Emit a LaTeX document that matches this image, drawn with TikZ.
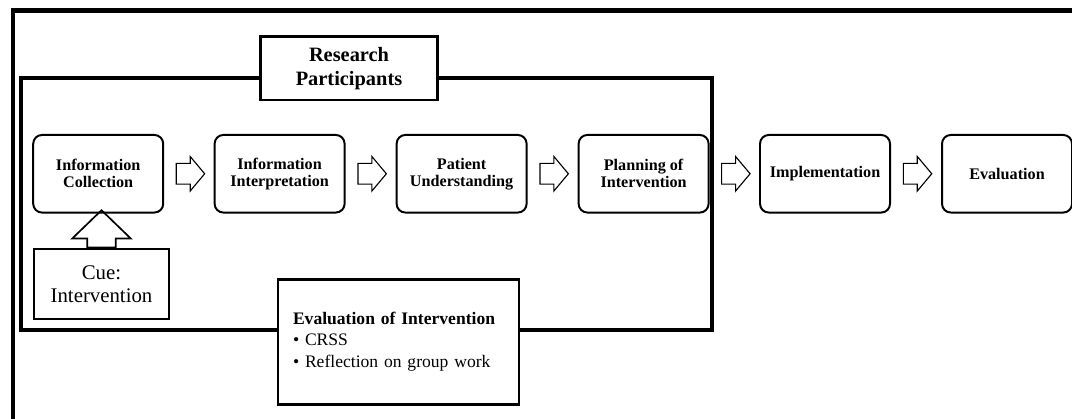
\documentclass[tikz,border=0pt]{standalone}
\usepackage{fontspec}
\setmainfont{Liberation Serif}
\usetikzlibrary{shapes.arrows,calc}

\begin{document}
\begin{tikzpicture}[
 stage/.style={draw,line width=1.4pt,rounded corners=0.22cm,minimum width=3.25cm,minimum height=1.94cm,align=center,font=\fontsize{11.5}{12}\selectfont\bfseries},
 flowarrow/.style={single arrow,draw,line width=0.8pt,minimum height=0.71cm,inner xsep=0pt,inner ysep=0.246cm,single arrow head extend=0.171cm,single arrow tip angle=100},
 heavybox/.style={draw,line width=2.1pt,fill=white}]
\useasboundingbox (0,0) rectangle (26.8,10.45);
% frames
\draw[line width=3.5pt] (0.325,-0.3) -- (0.325,10.18) -- (27.2,10.18);
\draw[line width=2.85pt] (0.525,8.5) rectangle (17.8,2.2);
\node[heavybox,minimum width=4.415cm,minimum height=1.58cm,align=center,font=\fontsize{14.5}{17}\selectfont\bfseries] (participants) at (8.725,8.74) {Research\\Participants};
% stages
\node[stage] (collect) at (2.455,6.106) {Information\\Collection};
\node[stage] (interpret) at (6.99,6.106) {Information\\Interpretation};
\node[stage] (understand) at (11.54,6.106) {Patient\\Understanding};
\node[stage] (plan) at (16.09,6.106) {Planning of\\Intervention};
\node[stage] (implement) at (20.625,6.106) {Implementation};
\node[stage] (evaluate) at (25.175,6.106) {Evaluation};
\foreach \a/\b in {collect/interpret,interpret/understand,understand/plan,plan/implement,implement/evaluate}
 \node[flowarrow,anchor=tail] (\a-\b) at ($(\a.east)!0.5!(\b.west)+(-0.33,0)$) {};
% cue
\node[draw,line width=1.3pt,minimum width=3.375cm,minimum height=1.75cm,align=center,font=\fontsize{14.8}{16.2}\selectfont] (cue) at (2.5375,3.3425) {Cue:\\Intervention};
\node[flowarrow,rotate=90,anchor=tail,line width=1.2pt,minimum height=0.9325cm,inner ysep=0.334cm,single arrow head extend=0.375cm,single arrow tip angle=92] (cuearrow) at (cue.north) {};
% evaluation of intervention
\node[heavybox,minimum width=6.025cm,minimum height=3.12cm,text width=5.275cm,inner xsep=0.375cm,align=left,font=\fontsize{12.5}{15}\selectfont] (review) at (9.9625,1.9075) {\textbf{Evaluation of Intervention}\\\textbullet{} CRSS\\\textbullet{} Reflection on group work};
\end{tikzpicture}
\end{document}
